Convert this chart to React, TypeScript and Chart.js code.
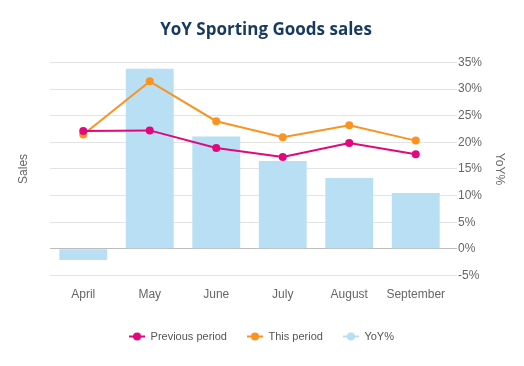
import React, { useEffect, useRef } from "react";
import { Chart, registerables } from "chart.js";

Chart.register(...registerables);

const chartTitle = "YoY Sporting Goods sales";
const categories = ["April", "May", "June", "July", "August", "September"];
const previousPeriod = [67.8, 68.1, 59.8, 55.6, 62.2, 56.9];
const thisPeriod = [66.2, 91.1, 72.4, 64.9, 70.5, 63.3];
const yoyPercent = [-2.1, 33.8, 21.1, 16.5, 13.3, 10.5];

const PINK = "#e2077e";
const ORANGE = "#fb9320";
const BLUE = "#b8dff4";

function legendIcon(color: string): HTMLCanvasElement {
  const c = document.createElement("canvas");
  c.width = 16;
  c.height = 9;
  const g = c.getContext("2d")!;
  g.strokeStyle = color;
  g.lineWidth = 2;
  g.beginPath();
  g.moveTo(0, 4.5);
  g.lineTo(16, 4.5);
  g.stroke();
  g.fillStyle = color;
  g.beginPath();
  g.arc(8, 4.5, 4, 0, Math.PI * 2);
  g.fill();
  return c;
}

const titlePlugin = {
  id: "customTitle",
  afterDraw(chart: any) {
    const ctx = chart.ctx;
    ctx.save();
    ctx.font = "bold 17px 'Open Sans'";
    ctx.fillStyle = "#173a5e";
    ctx.textAlign = "center";
    ctx.textBaseline = "middle";
    ctx.fillText(chartTitle, 266, 30);
    ctx.restore();
  },
};

export default function App() {
  const ref = useRef<HTMLCanvasElement | null>(null);
  useEffect(() => {
    if (!ref.current) return;
    const icons = [legendIcon(PINK), legendIcon(ORANGE), legendIcon(BLUE)];
    const chart = new Chart(ref.current, {
      type: "bar",
      plugins: [titlePlugin],
      data: {
        labels: categories,
        datasets: [
          {
            type: "line",
            label: "Previous period",
            data: previousPeriod,
            borderColor: PINK,
            backgroundColor: PINK,
            borderWidth: 2,
            pointRadius: 4,
            pointBorderWidth: 0,
            pointBackgroundColor: PINK,
            pointStyle: "circle",
            yAxisID: "y",
          } as any,
          {
            type: "line",
            label: "This period",
            data: thisPeriod,
            borderColor: ORANGE,
            backgroundColor: ORANGE,
            borderWidth: 2,
            pointRadius: 4,
            pointBorderWidth: 0,
            pointBackgroundColor: ORANGE,
            pointStyle: "circle",
            yAxisID: "y",
          } as any,
          {
            type: "bar",
            label: "YoY%",
            data: yoyPercent,
            backgroundColor: BLUE,
            borderWidth: 0,
            yAxisID: "y1",
          } as any,
        ],
      },
      options: {
        animation: false,
        responsive: false,
        maintainAspectRatio: false,
        layout: { padding: { left: 12, right: 13, top: 62.4, bottom: 14 } },
        plugins: {
          title: { display: false },
          legend: {
            position: "bottom",
            labels: {
              usePointStyle: true,
              pointStyleWidth: 16,
              boxHeight: 9,
              padding: 20,
              color: "#555",
              font: { size: 11 },
              generateLabels: (chart: any) =>
                chart.data.datasets.map((ds: any, i: number) => ({
                  text: ds.label,
                  pointStyle: icons[i],
                  fillStyle: "transparent",
                  strokeStyle: "transparent",
                  lineWidth: 0,
                  hidden: false,
                  datasetIndex: i,
                  fontColor: "#555",
                })),
            },
          },
          tooltip: { enabled: false },
        },
        scales: {
          x: {
            grid: { display: false, drawTicks: false },
            border: { display: false },
            ticks: { color: "#666", font: { size: 12 }, padding: 12 },
            afterFit: (s: any) => {
              s.height = 35.5;
            },
          },
          y: {
            position: "left",
            min: 0,
            max: 100,
            grid: { display: false, drawTicks: false },
            border: { display: false },
            ticks: { display: false },
            title: {
              display: true,
              text: "Sales",
              color: "#666",
              font: { size: 12 },
              padding: { top: 4, bottom: 20 },
            },
            afterFit: (s: any) => {
              s.width = 38;
            },
          },
          y1: {
            position: "right",
            min: -5,
            max: 35,
            grid: {
              color: (ctx: any) => (ctx.tick && ctx.tick.value === 0 ? "#bdbdbd" : "#e3e3e3"),
              tickLength: 8,
            },
            border: { display: false },
            ticks: {
              stepSize: 5,
              color: "#666",
              font: { size: 12 },
              padding: 1,
              callback: (v: any) => v + "%",
            },
            title: {
              display: true,
              text: "YoY%",
              color: "#666",
              font: { size: 12 },
              padding: { top: 4, bottom: 4 },
            },
            afterFit: (s: any) => {
              s.width = 62;
            },
          },
        },
      } as any,
    });
    return () => chart.destroy();
  }, []);
  return (
    <div style={{ position: "fixed", left: 0, top: 0, width: 524, height: 366, background: "#fff" }}>
      <canvas ref={ref} width={524} height={366} style={{ display: "block", width: 524, height: 366 }} />
    </div>
  );
}
